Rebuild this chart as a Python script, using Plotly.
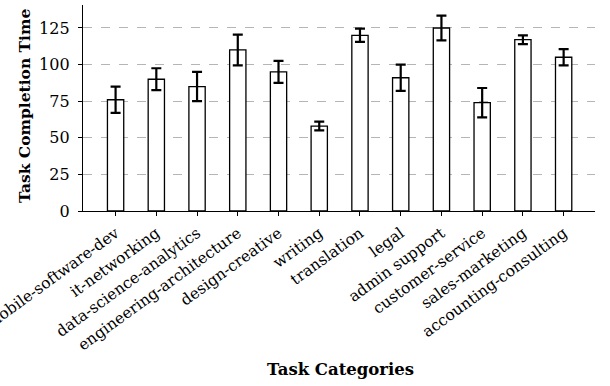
import plotly.graph_objects as go

categories = [
    "mobile-software-dev", "it-networking", "data-science-analytics",
    "engineering-architecture", "design-creative", "writing", "translation",
    "legal", "admin support", "customer-service", "sales-marketing",
    "accounting-consulting",
]
mean_times = [76, 90, 85, 110, 95, 58, 120, 91, 125, 74, 117, 105]
time_errors = [9, 7.5, 10, 10.5, 7.5, 3, 4.5, 9, 8.5, 10, 3, 5.5]
y_ticks = [0, 25, 50, 75, 100, 125]

serif = "DejaVu Serif"
x_pos = list(range(len(categories)))

fig = go.Figure(
    go.Bar(
        x=x_pos,
        y=mean_times,
        width=0.4,
        marker=dict(color="white", line=dict(color="black", width=1.3)),
        error_y=dict(type="data", array=time_errors, visible=True,
                     color="black", thickness=2.2, width=5),
    )
)

fig.update_layout(
    width=610, height=386,
    margin=dict(l=83, r=15, t=5, b=175),
    paper_bgcolor="white", plot_bgcolor="white",
    showlegend=False,
    font=dict(family=serif, size=15, color="black"),
    xaxis=dict(
        tickmode="array", tickvals=x_pos, ticktext=categories,
        tickangle=-36, range=[-0.8, 11.77],
        automargin=False, ticklabeloverflow="allow",
        showline=True, linecolor="black", linewidth=1.3,
        ticks="outside", ticklen=4, tickcolor="black", tickwidth=1.2,
        ticklabelstandoff=2,
        showgrid=False, zeroline=False,
        tickfont=dict(family=serif, size=15.5),
    ),
    yaxis=dict(
        range=[0, 140.7], tickvals=y_ticks,
        automargin=False,
        showline=True, linecolor="black", linewidth=1.3,
        ticks="outside", ticklen=4, tickcolor="black", tickwidth=1.2,
        ticklabelstandoff=5,
        showgrid=True, gridcolor="#b5b5b5", griddash="dash", gridwidth=1,
        zeroline=False,
        tickfont=dict(family=serif, size=16),
    ),
    annotations=[
        dict(text="<b>Task Categories</b>", xref="paper", yref="paper",
             x=0.503, y=-0.767, xanchor="center", yanchor="middle",
             showarrow=False, font=dict(family=serif, size=16.5)),
        dict(text="<b>Task Completion Time</b>", xref="paper", yref="paper",
             x=-0.113, y=0.51, xanchor="center", yanchor="middle",
             textangle=-90, showarrow=False,
             font=dict(family=serif, size=15.5)),
    ],
)

fig.write_html("out.html")
